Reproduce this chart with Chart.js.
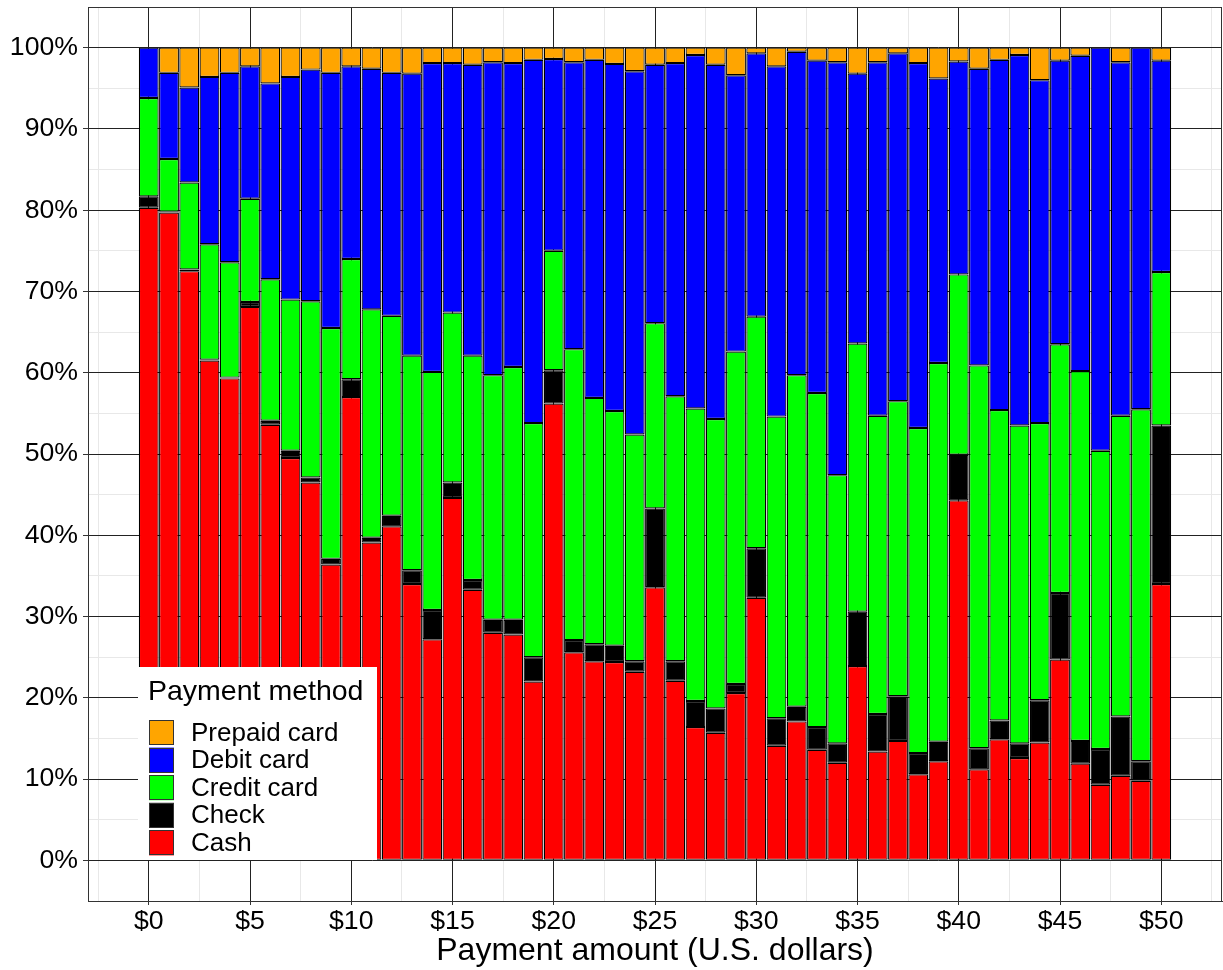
<!DOCTYPE html>
<html>
<head>
<meta charset="utf-8">
<script src="https://cdn.jsdelivr.net/npm/chart.js@4/dist/chart.umd.min.js"></script>
<style>
html, body { margin: 0; padding: 0; background: #ffffff; }
canvas { display: block; }
</style>
</head>
<body>
<canvas id="chart" width="1223" height="970"></canvas>
<script>
// ---- Data (percent of payments at each dollar amount) ----
const amounts = [0,1,2,3,4,5,6,7,8,9,10,11,12,13,14,15,16,17,18,19,20,21,22,23,24,25,26,27,28,29,30,31,32,33,34,35,36,37,38,39,40,41,42,43,44,45,46,47,48,49,50];

const cash = [80.3,79.7,72.5,61.5,59.3,68.1,53.6,49.5,46.5,36.4,
              57.0,39.1,41.1,34.0,27.2,44.6,33.3,28.0,27.8,22.0,
              56.2,25.6,24.5,24.4,23.2,33.6,22.1,16.4,15.7,20.6,
              32.3,14.1,17.1,13.6,12.0,23.9,13.4,14.7,10.6,12.2,
              44.3,11.2,14.9,12.6,14.5,24.7,11.9,9.3,10.4,9.8,34.0];

const check = [1.4,0.1,0.2,0.1,0.1,0.6,0.5,0.9,0.6,0.7,
               2.2,0.6,1.3,1.7,3.6,1.9,1.2,1.6,1.8,3.0,
               4.1,1.5,2.1,2.0,1.3,9.7,2.4,3.2,3.0,1.1,
               6.1,3.4,1.8,2.8,2.4,6.7,4.6,5.5,2.6,2.4,
               5.6,2.6,2.3,1.8,5.2,8.2,2.8,4.4,7.3,2.4,19.5];

const credit = [12.1,6.5,10.7,14.2,14.2,12.7,17.4,18.6,21.7,28.4,
                14.8,28.1,24.6,26.4,29.3,20.9,27.6,30.1,31.1,28.8,
                14.7,35.8,30.3,28.9,27.9,22.8,32.6,36.0,35.6,40.9,
                28.5,37.1,40.8,41.1,33.0,33.0,36.7,36.3,40.0,46.6,
                22.2,47.1,38.2,39.1,34.1,30.6,45.5,36.7,37.0,43.3,18.9];

const debit = [6.2,10.6,11.7,20.6,23.3,16.3,24.1,27.4,28.5,31.4,
               23.7,29.6,29.9,34.7,38.0,30.7,35.8,38.5,37.4,44.7,
               23.6,35.3,41.6,42.7,44.7,31.8,41.0,43.5,43.6,34.0,
               32.4,43.1,39.8,40.9,50.8,33.2,43.5,42.8,44.9,35.0,
               26.2,36.5,43.1,45.6,42.2,34.9,38.8,49.6,43.5,44.5,26.0];

const prepaid = [0,3.1,4.9,3.6,3.1,2.3,4.4,3.6,2.7,3.1,
                 2.3,2.6,3.1,3.2,1.9,1.9,2.1,1.8,1.9,1.5,
                 1.4,1.8,1.5,2.0,2.9,2.1,1.9,0.9,2.1,3.4,
                 0.7,2.3,0.5,1.6,1.8,3.2,1.8,0.7,1.9,3.8,
                 1.7,2.6,1.5,0.9,4.0,1.6,1.0,0,1.8,0,1.6];

const seriesNames = ['Cash', 'Check', 'Credit card', 'Debit card', 'Prepaid card'];
const seriesColors = ['#FF0000', '#000000', '#00FF00', '#0000FF', '#FFA500'];
const legendTitle = 'Payment method';
const xAxisTitle = 'Payment amount (U.S. dollars)';

// ---- Helpers ----
const FONT = '"Liberation Sans", Arial, Helvetica, sans-serif';
const near = (v, m) => Math.abs(v / m - Math.round(v / m)) < 1e-6;
const isYMajor = v => near(v, 10) && v >= -1e-6 && v <= 100 + 1e-6;
const isXMajor = v => near(v, 5);
const tv = c => (c && c.tick) ? c.tick.value : NaN;

const frame = {
  id: 'frame',
  afterDatasetsDraw(chart) {
    const { ctx, chartArea: a } = chart;
    ctx.save();
    ctx.strokeStyle = '#333333';
    ctx.lineWidth = 1;
    ctx.strokeRect(Math.round(a.left) + 0.5, Math.round(a.top) + 0.5,
                   Math.round(a.right - a.left) - 1, Math.round(a.bottom - a.top));
    ctx.restore();
  }
};

const ggLegend = {
  id: 'ggLegend',
  afterDraw(chart, args, opts) {
    const ctx = chart.ctx;
    const b = opts.box;
    ctx.save();
    ctx.fillStyle = '#ffffff';
    ctx.fillRect(b.x, b.y, b.w, b.h);
    ctx.fillStyle = '#000000';
    ctx.font = opts.titleSize + 'px ' + FONT;
    ctx.textAlign = 'left';
    ctx.textBaseline = 'alphabetic';
    ctx.fillText(opts.title, b.x + 10, b.y + 33);
    const ds = chart.data.datasets.slice().reverse();
    ctx.font = opts.labelSize + 'px ' + FONT;
    ds.forEach((d, i) => {
      const top = b.y + 53 + i * 27.6;
      ctx.fillStyle = d.backgroundColor;
      ctx.fillRect(b.x + 11, top, 25, 25);
      ctx.strokeStyle = '#333333';
      ctx.lineWidth = 1;
      ctx.strokeRect(Math.round(b.x + 11) + 0.5, Math.round(top) + 0.5, 24, 24);
      ctx.fillStyle = '#000000';
      ctx.textBaseline = 'middle';
      ctx.fillText(d.label, b.x + 53, top + 13.5);
    });
    ctx.restore();
  }
};

const series = [cash, check, credit, debit, prepaid];
const datasets = series.map((vals, i) => ({
  label: seriesNames[i],
  data: vals,
  backgroundColor: seriesColors[i],
  borderColor: '#000000',
  borderWidth: 1.2,
  borderSkipped: false,
  barPercentage: 0.98,
  categoryPercentage: 1.0,
  inflateAmount: 0
}));

new Chart(document.getElementById('chart'), {
  type: 'bar',
  data: { labels: amounts, datasets: datasets },
  plugins: [frame, ggLegend],
  options: {
    responsive: false,
    animation: false,
    devicePixelRatio: 1,
    layout: { padding: { top: 7, right: 1, left: 0, bottom: 0 } },
    plugins: {
      legend: { display: false },
      tooltip: { enabled: false },
      ggLegend: {
        title: legendTitle,
        titleSize: 28.5,
        labelSize: 26,
        box: { x: 138, y: 667, w: 239, h: 193 }
      }
    },
    scales: {
      x: {
        type: 'linear',
        stacked: true,
        min: -3,
        max: 53,
        offset: false,
        border: { display: true, color: '#333333', width: 1 },
        grid: {
          offset: false,
          lineWidth: 1,
          color: c => isXMajor(tv(c)) ? '#222222' : '#e8e8e8',
          tickLength: 4,
          tickColor: c => isXMajor(tv(c)) ? '#333333' : 'rgba(0,0,0,0)'
        },
        ticks: {
          stepSize: 2.5,
          includeBounds: false,
          autoSkip: false,
          maxRotation: 0,
          padding: 1,
          color: '#000000',
          font: { family: FONT, size: 26.67, lineHeight: 1.2 },
          callback: v => isXMajor(v) ? '$' + Math.round(v) : ''
        },
        title: {
          display: true,
          text: xAxisTitle,
          color: '#000000',
          font: { family: FONT, size: 32, lineHeight: 1.2 },
          padding: { top: 0, bottom: 0 }
        },
        afterFit: s => { s.height = 69; s.paddingLeft = 0; s.paddingRight = 0; }
      },
      y: {
        type: 'linear',
        stacked: true,
        min: -5,
        max: 105,
        border: { display: true, color: '#333333', width: 1 },
        grid: {
          lineWidth: 1,
          color: c => {
            const v = tv(c);
            if (isYMajor(v)) return '#222222';
            if (!(v >= 0 && v <= 100)) return 'rgba(0,0,0,0)';
            return '#e8e8e8';
          },
          tickLength: 5,
          tickColor: c => isYMajor(tv(c)) ? '#333333' : 'rgba(0,0,0,0)'
        },
        ticks: {
          stepSize: 5,
          autoSkip: false,
          padding: 5,
          color: '#000000',
          font: { family: FONT, size: 26.67 },
          callback: v => isYMajor(v) ? Math.round(v) + '%' : ''
        },
        afterFit: s => { s.width = 88; s.paddingTop = 0; s.paddingBottom = 0; }
      }
    }
  }
});
</script>
</body>
</html>
